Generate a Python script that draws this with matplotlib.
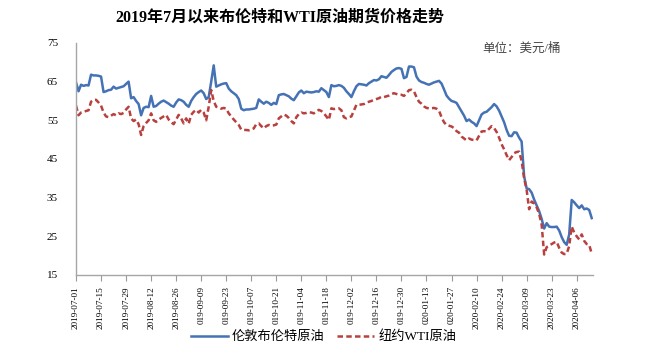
import matplotlib
matplotlib.use("Agg")
import matplotlib.pyplot as plt
import pandas as pd

plt.rcParams['font.family'] = ['Liberation Serif', 'Noto Sans CJK SC', 'DejaVu Sans']

# trading days 2019-07-01 .. 2020-04-14
dates = pd.bdate_range('2019-07-01', periods=207)

brent = [64.8, 62.5, 64.2, 63.9, 64.1, 64.0, 66.8, 66.6, 66.6, 66.5,
         66.3, 62.3, 62.5, 62.8, 62.9, 63.7, 63.2, 63.4, 63.6, 63.8,
         64.4, 65.0, 60.7, 61.0, 60.0, 59.2, 56.3, 58.2, 58.5, 58.4,
         61.3, 58.5, 58.7, 59.3, 59.8, 60.1, 59.7, 59.3, 58.8, 58.5,
         59.6, 60.4, 60.2, 59.8, 59.0, 58.5, 60.0, 61.0, 61.8, 62.3,
         62.7, 62.0, 60.5, 61.0, 65.0, 69.2, 63.7, 64.0, 64.3, 64.5,
         64.6, 63.2, 62.5, 62.0, 61.5, 60.5, 58.0, 57.6, 57.8, 57.8,
         57.9, 58.0, 58.2, 60.4, 59.8, 59.3, 59.8, 59.5, 59.0, 59.5,
         59.2, 61.5, 61.7, 61.8, 61.5, 61.2, 60.6, 60.2, 61.2, 62.2,
         62.7, 62.0, 62.4, 62.3, 62.2, 62.3, 62.5, 62.4, 63.3, 62.8,
         62.3, 61.0, 64.1, 63.8, 63.9, 64.1, 63.9, 63.4, 62.5, 61.8,
         61.0, 62.5, 63.8, 64.4, 64.3, 64.2, 64.0, 64.6, 65.0, 65.4,
         65.3, 65.6, 66.4, 66.2, 66.0, 66.7, 67.5, 68.0, 68.4, 68.5,
         68.3, 65.9, 66.2, 68.9, 68.9, 68.7, 66.3, 65.3, 64.9, 64.7,
         64.4, 64.2, 64.5, 64.8, 65.0, 65.2, 64.5, 63.0, 61.4, 60.6,
         60.0, 59.8, 59.5, 58.4, 57.3, 56.2, 54.8, 55.2, 54.6, 54.2,
         53.5, 55.0, 56.5, 57.0, 57.2, 57.8, 58.4, 59.2, 58.6, 57.5,
         56.0, 54.5, 52.5, 51.0, 50.9, 51.9, 51.8, 50.5, 49.5, 40.5,
         37.4, 37.2, 36.3, 34.5, 33.0, 31.5, 29.5, 27.0, 28.4, 27.5,
         27.4, 27.4, 27.5, 26.5, 24.8, 23.5, 22.8, 25.5, 34.4, 33.8,
         33.0, 32.3, 33.0, 32.0, 32.2, 31.8, 29.7]

wti = [58.8, 56.3, 57.0, 57.2, 57.4, 57.6, 59.8, 60.3, 60.3, 59.6,
       58.8, 57.0, 56.0, 55.8, 56.2, 56.6, 56.3, 56.8, 56.6, 56.9,
       57.8, 58.5, 55.5, 54.8, 55.2, 54.0, 51.2, 53.5, 54.3, 55.0,
       56.8, 55.0, 54.6, 55.2, 55.6, 56.0, 56.4, 55.2, 54.5, 54.0,
       55.2, 56.4, 55.5, 54.2, 55.5, 54.1, 56.4, 57.2, 57.7, 57.0,
       57.7, 57.0, 55.0, 58.5, 62.8, 60.0, 58.5, 58.3, 58.0, 58.2,
       58.0, 56.8, 56.0, 55.2, 54.5, 53.8, 52.6, 52.5, 52.5, 52.4,
       52.6, 52.9, 54.0, 54.2, 53.5, 52.9, 53.5, 53.8, 53.6, 53.7,
       53.9, 55.5, 56.0, 56.5, 56.2, 55.6, 54.8, 54.2, 55.8, 56.6,
       57.0, 56.8, 56.9, 57.1, 57.0, 56.8, 57.3, 57.7, 57.4, 56.8,
       56.0, 55.1, 58.1, 57.9, 58.0, 58.1, 57.6, 55.8, 55.5, 55.8,
       56.0, 57.5, 59.0, 59.0, 59.1, 59.2, 59.6, 59.8, 60.0, 60.3,
       60.5, 60.7, 61.1, 61.0, 61.2, 61.4, 61.8, 62.0, 61.8, 61.6,
       61.6, 61.3, 62.0, 62.8, 62.9, 62.5, 61.0, 59.8, 59.3, 58.6,
       58.2, 58.1, 58.1, 58.2, 58.0, 57.5, 55.8, 54.5, 53.8, 53.6,
       53.4, 53.0, 52.2, 51.8, 50.8, 50.3, 49.8, 50.3, 50.0, 49.9,
       49.8, 51.0, 52.1, 52.2, 52.1, 52.8, 53.5, 53.0, 52.0, 50.5,
       48.8, 47.5, 46.0, 44.7, 45.5, 46.5, 46.8, 46.9, 44.5, 40.0,
       37.0, 32.0, 34.0, 33.5, 32.5, 30.8, 28.0, 20.3, 22.2, 22.6,
       23.0, 23.4, 23.6, 22.0, 20.8, 20.4, 20.5, 22.5, 27.5, 26.0,
       25.0, 24.2, 25.5, 23.8, 23.0, 22.8, 20.5]

tick_labels = ['2019-07-01', '2019-07-15', '2019-07-29', '2019-08-12', '2019-08-26',
               '019-09-09', '019-09-23', '019-10-07', '019-10-21', '019-11-04',
               '019-11-18', '019-12-02', '019-12-16', '019-12-30', '020-01-13',
               '020-01-27', '2020-02-10', '2020-02-24', '2020-03-09', '2020-03-23',
               '2020-04-06']

x = list(range(len(dates)))

fig = plt.figure(figsize=(6.47, 3.57), dpi=100)
ax = fig.add_axes([0.1175, 0.2297, 0.799, 0.65])

ax.plot(x, brent, color='#4472B4', lw=1.8, label='伦敦布伦特原油')
ax.plot(x, wti, color='#B8403E', lw=1.8, ls=(0, (2.2, 1.3)), label='纽约WTI原油')

ax.set_ylim(15, 75)
ax.set_yticks(range(15, 76, 10))
ax.set_xlim(0, len(x) - 0.5)
ax.set_xticks(range(0, 201, 10))
ax.set_xticklabels(tick_labels, rotation=90, fontsize=6.6)
ax.tick_params(axis='y', length=0, labelsize=8, pad=13)
ax.tick_params(axis='x', length=4, color='#999999', pad=4)

for s in ['top', 'right']:
    ax.spines[s].set_visible(False)
for s in ['left', 'bottom']:
    ax.spines[s].set_color('#A6A6A6')
    ax.spines[s].set_linewidth(1)

fig.text(0.432, 0.95, '2019年7月以来布伦特和WTI原油期货价格走势', ha='center', va='center',
         fontsize=11.5, fontweight='bold')
ax.text(0.937, 0.975, '单位：美元/桶', transform=ax.transAxes, ha='right', va='center',
        fontsize=9, color='#444444')

fig.legend(loc='lower center', bbox_to_anchor=(0.5, 0.005), ncol=2, frameon=False,
           fontsize=9.5, handlelength=2.8, columnspacing=1.0, handletextpad=0.3)

fig.savefig('out.png', dpi=100)
